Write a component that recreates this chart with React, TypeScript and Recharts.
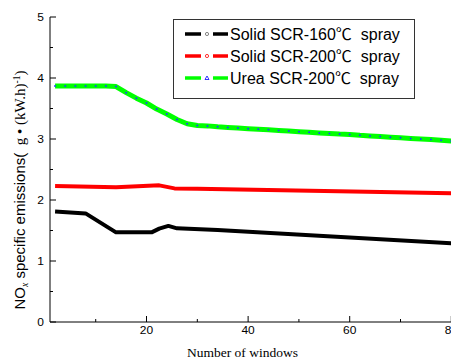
import React from 'react';
import { LineChart, Line, XAxis, YAxis, Legend, Label } from 'recharts';

// ---- data ----
const ureaWindows = [2, 4, 6, 8, 10, 12, 14, 16, 18, 20, 22, 24, 26, 28, 30, 32, 34, 36, 38, 40, 42, 44, 46, 48, 50, 52, 54, 56, 58, 60, 62, 64, 66, 68, 70, 72, 74, 76, 78, 80];
const ureaSCR200 = [3.87, 3.87, 3.87, 3.87, 3.87, 3.87, 3.86, 3.76, 3.67, 3.59, 3.49, 3.41, 3.32, 3.25, 3.22, 3.215, 3.2, 3.19, 3.18, 3.17, 3.16, 3.15, 3.14, 3.13, 3.12, 3.11, 3.1, 3.09, 3.08, 3.075, 3.06, 3.05, 3.04, 3.03, 3.02, 3.01, 3.0, 2.99, 2.98, 2.965];

const solid200Windows = [2, 14, 22.5, 25.5, 30, 80];
const solidSCR200 = [2.23, 2.21, 2.24, 2.19, 2.185, 2.11];

const solid160Windows = [2, 8, 14, 21, 22.5, 24.3, 26, 34, 80];
const solidSCR160 = [1.81, 1.78, 1.47, 1.47, 1.53, 1.575, 1.535, 1.51, 1.29];

const seriesNames = ['Solid SCR-160\u2103 spray', 'Solid SCR-200\u2103 spray', 'Urea SCR-200\u2103 spray'];
const seriesColors = ['#000000', '#ff0000', '#00ff00'];

const xTicks = [10, 20, 30, 40, 50, 60, 70, 80];
const xLabelTicks = [20, 40, 60, 80];
const yTicks = [0, 0.5, 1, 1.5, 2, 2.5, 3, 3.5, 4, 4.5, 5];
const yLabelTicks = [0, 1, 2, 3, 4, 5];

const toRows = (xs: number[], ys: number[]) => xs.map((w, i) => ({ w, v: ys[i] }));
const data160 = toRows(solid160Windows, solidSCR160);
const data200 = toRows(solid200Windows, solidSCR200);
const dataUrea = toRows(ureaWindows, ureaSCR200);

const SANS = '"Liberation Sans", Arial, "Noto Sans CJK SC", sans-serif';
const SERIF = '"Liberation Serif", "Times New Roman", serif';
const CJK = '"Noto Sans CJK SC", sans-serif';

const XTick = (props: any) => {
  const { x, y, payload } = props;
  const v = payload.value;
  const major = xLabelTicks.includes(v);
  return (
    <g>
      <line x1={x} y1={y} x2={x} y2={y - (major ? 6 : 3)} stroke="#000" strokeWidth={1} />
      {major && (
        <text transform={`translate(${x},${y + 12}) scale(1.2,1)`} textAnchor="middle" fontSize={10} fontFamily={SANS} fill="#000">
          {v}
        </text>
      )}
    </g>
  );
};

const YTick = (props: any) => {
  const { x, y, payload } = props;
  const v = payload.value;
  const major = yLabelTicks.includes(v);
  return (
    <g>
      <line x1={x} y1={y} x2={x + (major ? 6 : 3)} y2={y} stroke="#000" strokeWidth={1} />
      {major && (
        <text transform={`translate(${x - 6},${y + 3.6}) scale(1.2,1)`} textAnchor="end" fontSize={10} fontFamily={SANS} fill="#000">
          {v}
        </text>
      )}
    </g>
  );
};

const XTitle = () => (
  <text x={242.5} y={357} textAnchor="middle" fontSize={13.5} fontFamily={SERIF} fill="#000">
    Number of windows
  </text>
);

const YTitle = () => (
  <text transform="translate(25,190) rotate(-90)" textAnchor="middle" fontSize={15} fontFamily={SANS} fill="#000">
    NO
    <tspan fontSize={9.5} fontStyle="italic" fontFamily={SERIF} dy={3}>x</tspan>
    <tspan dy={-3}> specific emissions(</tspan>
    <tspan fontFamily={SERIF} fontSize={15}>{'\u00a0 g \u2022 (kW.h)'}</tspan>
    <tspan fontFamily={SERIF} fontSize={9.5} dy={-5}>-1</tspan>
    <tspan fontFamily={SERIF} fontSize={15} dy={5}>)</tspan>
  </text>
);

const Marker = ({ i, cx, cy }: { i: number; cx: number; cy: number }) => {
  if (i === 0) return <circle cx={cx} cy={cy} r={1.6} fill="#fff" stroke="#666" strokeWidth={0.8} />;
  if (i === 1) return <circle cx={cx} cy={cy} r={1.6} fill="#fff" stroke="#ff0000" strokeWidth={0.8} />;
  return <polygon points={`${cx},${cy - 2} ${cx - 2},${cy + 1.5} ${cx + 2},${cy + 1.5}`} fill="#fff" stroke="#0000ff" strokeWidth={0.8} />;
};

const renderName = (name: string) => {
  const parts = name.split('\u2103');
  return (
    <>
      {parts[0]}
      <tspan fontFamily={CJK} fontSize={16}>{'\u2103'}</tspan>
      {'\u00a0' + parts[1]}
    </>
  );
};

const LegendBox = () => (
  <div style={{ width: 242, height: 80, boxSizing: 'border-box', border: '1px solid #333', background: '#fff' }}>
    <svg width={240} height={78} style={{ display: 'block' }}>
      {seriesNames.map((name, i) => {
        const cy = 14 + i * 22;
        return (
          <g key={name}>
            <line x1={11} y1={cy} x2={27} y2={cy} stroke={seriesColors[i]} strokeWidth={3.5} />
            <line x1={39} y1={cy} x2={54} y2={cy} stroke={seriesColors[i]} strokeWidth={3.5} />
            <Marker i={i} cx={33} cy={cy} />
            <text x={56} y={cy + 5.7} fontSize={16} fontFamily={SANS} fill="#000">
              {renderName(name)}
            </text>
          </g>
        );
      })}
    </svg>
  </div>
);

export default function App() {
  return (
    <div style={{ position: 'absolute', left: 0, top: 0, width: 451, height: 360, overflow: 'hidden', background: '#fff' }}>
      <LineChart width={470} height={360} margin={{ top: 17, right: 18.7, left: 0, bottom: 0 }}>
        <XAxis
          dataKey="w"
          type="number"
          domain={[1, 80]}
          ticks={xTicks}
          interval={0}
          tickLine={false}
          tickSize={0}
          tickMargin={0}
          tick={<XTick />}
          axisLine={{ stroke: '#000', strokeWidth: 1 }}
          height={38}
          allowDataOverflow
        >
          <Label content={<XTitle />} />
        </XAxis>
        <XAxis
          xAxisId="top"
          orientation="top"
          dataKey="w"
          type="number"
          domain={[1, 80]}
          tick={false}
          tickLine={false}
          height={0}
          axisLine={{ stroke: '#000', strokeWidth: 1 }}
          allowDataOverflow
        />
        <YAxis
          type="number"
          domain={[0, 5]}
          ticks={yTicks}
          interval={0}
          tickLine={false}
          tickSize={0}
          tickMargin={0}
          tick={<YTick />}
          axisLine={{ stroke: '#000', strokeWidth: 1 }}
          width={50}
          allowDataOverflow
        >
          <Label content={<YTitle />} />
        </YAxis>
        <Legend
          layout="horizontal"
          verticalAlign="middle"
          align="center"
          content={<LegendBox />}
          wrapperStyle={{ position: 'absolute', left: 173, top: 19, width: 242, height: 80 }}
        />
        <Line data={data160} dataKey="v" name={seriesNames[0]} type="linear" stroke={seriesColors[0]} strokeWidth={4} strokeLinejoin="round" dot={false} isAnimationActive={false} />
        <Line data={data200} dataKey="v" name={seriesNames[1]} type="linear" stroke={seriesColors[1]} strokeWidth={4} strokeLinejoin="round" dot={false} isAnimationActive={false} />
        <Line
          data={dataUrea}
          dataKey="v"
          name={seriesNames[2]}
          type="linear"
          stroke={seriesColors[2]}
          strokeWidth={5}
          strokeLinejoin="round"
          dot={{ r: 1, fill: '#2040ff', stroke: 'none' }}
          isAnimationActive={false}
        />
      </LineChart>
    </div>
  );
}
